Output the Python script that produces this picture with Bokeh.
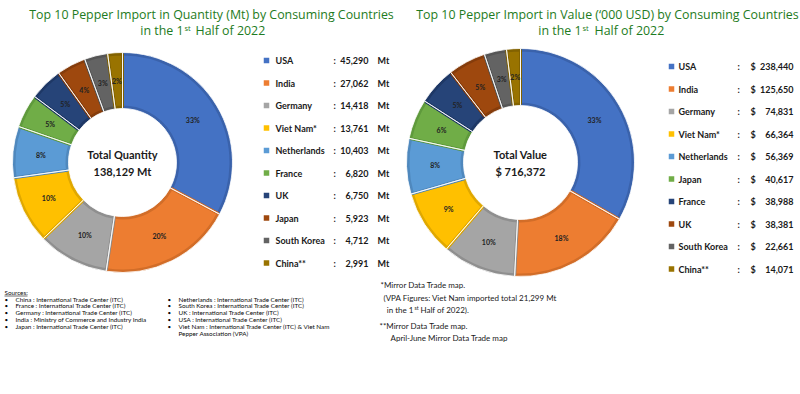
import math
from bokeh.plotting import figure
from bokeh.models import ColumnDataSource, Range1d
from bokeh.core.properties import value
from bokeh.embed import file_html
from bokeh.resources import INLINE

# ---------------- data ----------------
qty_countries = ["USA", "India", "Germany", "Viet Nam*", "Netherlands", "France", "UK", "Japan", "South Korea", "China**"]
qty_values = [45290, 27062, 14418, 13761, 10403, 6820, 6750, 5923, 4712, 2991]
qty_total_label = "138,129 Mt"

val_countries = ["USA", "India", "Germany", "Viet Nam*", "Netherlands", "Japan", "France", "UK", "South Korea", "China**"]
val_values = [238440, 125650, 74831, 66364, 56369, 40617, 38988, 38381, 22661, 14071]
val_total_label = "$ 716,372"

slice_colors = ["#4472C4", "#ED7D31", "#A5A5A5", "#FFC000", "#5B9BD5", "#70AD47", "#264478", "#9E480E", "#636363", "#997300"]
edge_colors = ["#3A62AB", "#D26D28", "#8F8F8F", "#E0A800", "#4F88BD", "#5F9A3C", "#1E3866", "#853C0B", "#555555", "#826200"]

sources_left = ["China : International Trade Center (ITC)",
                "France : International Trade Center (ITC)",
                "Germany : International Trade Center (ITC)",
                "India : Ministry of Commerce and Industry India",
                "Japan : International Trade Center (ITC)"]
sources_right = ["Netherlands : International Trade Center (ITC)",
                 "South Korea : International Trade Center (ITC)",
                 "UK : International Trade Center (ITC)",
                 "USA : International Trade Center (ITC)",
                 "Viet Nam : International Trade Center (ITC) & Viet Nam",
                 "Pepper Association (VPA)"]

W, H = 800, 394
def X(rx):
    return rx
def Y(ry):
    return H - ry

p = figure(width=W, height=H, output_backend="svg", toolbar_location=None,
           x_range=Range1d(0, W), y_range=Range1d(0, H), min_border=0)
p.axis.visible = False
p.grid.visible = False
p.outline_line_color = None
p.background_fill_color = "white"

GREEN = "#1E7B22"
TXT = "#1a1a1a"
TITLE_FONT = value("Open Sans")
BODY_FONT = value("Lato")

def txt(x, y, t, size, bold=False, color=TXT, align="left", font=BODY_FONT, baseline="middle"):
    p.text(x=[X(x)], y=[Y(y)], text=[t], text_font=font, text_font_size=f"{size}px",
           text_font_style="bold" if bold else "normal", text_color=color,
           text_align=align, text_baseline=baseline)

def donut(cx, cy, r_in, r_out, values, total_lines):
    tot = float(sum(values))
    starts, ends, lx, ly, labels = [], [], [], [], []
    cum = 0.0
    for v in values:
        a0 = math.pi / 2 - cum / tot * 2 * math.pi
        cum += v
        a1 = math.pi / 2 - cum / tot * 2 * math.pi
        starts.append(a0)
        ends.append(a1)
        mid = (a0 + a1) / 2
        rm = (r_in + r_out) / 2
        lx.append(X(cx) + rm * math.cos(mid))
        ly.append(Y(cy) + rm * math.sin(mid))
        labels.append(f"{round(v / tot * 100)}%")
    src = ColumnDataSource(dict(x=[X(cx)] * len(values), y=[Y(cy)] * len(values),
                                s=starts, e=ends, c=slice_colors, lc=edge_colors))
    p.annular_wedge(x="x", y="y", inner_radius=r_in + 1.5, outer_radius=r_out - 1.5,
                    start_angle="s", end_angle="e", direction="clock",
                    fill_color="c", line_color="lc", line_width=3, source=src)
    p.annular_wedge(x="x", y="y", inner_radius=r_in, outer_radius=r_out,
                    start_angle="s", end_angle="e", direction="clock",
                    fill_color=None, line_color="white", line_width=0.8, source=src)
    p.text(x=lx, y=ly, text=labels, text_font=BODY_FONT, text_font_size="7px",
           text_font_style="bold", text_color="#222222", text_align="center",
           text_baseline="middle")
    txt(cx, cy - 8, total_lines[0], 11, bold=True, align="center")
    txt(cx, cy + 9, total_lines[1], 11, bold=True, align="center")

TS = 12.4
# ---------------- left chart ----------------
txt(211, 14, "Top 10 Pepper Import in Quantity (Mt) by Consuming Countries", TS, color=GREEN, align="center", font=TITLE_FONT)
txt(183, 30, "in the 1", TS, color=GREEN, align="right", font=TITLE_FONT)
txt(184, 27, "st", 7.5, color=GREEN, font=TITLE_FONT)
txt(195, 30, "Half of 2022", TS, color=GREEN, font=TITLE_FONT)
donut(122, 162, 54, 110, qty_values, ["Total Quantity", qty_total_label])

row0, dy = 60, 22.5
for i, (c, v) in enumerate(zip(qty_countries, qty_values)):
    yy = row0 + i * dy
    p.rect(x=[X(266)], y=[Y(yy)], width=5.5, height=5.5, fill_color=slice_colors[i], line_color=None)
    txt(275, yy, c, 9, bold=True)
    txt(333, yy, ":", 9, bold=True)
    txt(368, yy, f"{v:,}", 9, bold=True, align="right")
    txt(377, yy, "Mt", 9, bold=True)

# ---------------- right chart ----------------
txt(607, 14, "Top 10 Pepper Import in Value (\u2018000 USD) by Consuming Countries", TS, color=GREEN, align="center", font=TITLE_FONT)
txt(581, 30, "in the 1", TS, color=GREEN, align="right", font=TITLE_FONT)
txt(582, 27, "st", 7.5, color=GREEN, font=TITLE_FONT)
txt(594, 30, "Half of 2022", TS, color=GREEN, font=TITLE_FONT)
donut(520, 162, 57, 114, val_values, ["Total Value", val_total_label])

row0r = 66
for i, (c, v) in enumerate(zip(val_countries, val_values)):
    yy = row0r + i * dy
    p.rect(x=[X(671)], y=[Y(yy)], width=5.5, height=5.5, fill_color=slice_colors[i], line_color=None)
    txt(678, yy, c, 9, bold=True)
    txt(737, yy, ":", 9, bold=True)
    txt(750, yy, "$", 9, bold=True)
    txt(793, yy, f"{v:,}", 9, bold=True, align="right")

# ---------------- sources ----------------
SC = "#0a0a0a"
SF = 6.3
txt(4, 292, "Sources:", SF, color=SC)
p.segment(x0=[X(4)], y0=[Y(295.5)], x1=[X(27)], y1=[Y(295.5)], line_color=SC, line_width=0.6)
s_y0, s_dy = 298.5, 6.8
for i, s in enumerate(sources_left):
    yy = s_y0 + i * s_dy
    txt(4, yy, "\u2022", SF, color=SC)
    txt(15, yy, s, SF, color=SC)
for i, s in enumerate(sources_right):
    yy = s_y0 + i * s_dy
    if i < len(sources_right) - 1:
        txt(167, yy, "\u2022", SF, color=SC)
    txt(178, yy, s, SF, color=SC)

# ---------------- notes ----------------
NOTE = 8
txt(380, 284, "*Mirror Data Trade map.", NOTE)
txt(383, 297, "(VPA Figures: Viet Nam imported total 21,299 Mt", NOTE)
txt(413, 309, "in the 1", NOTE, align="right")
txt(414, 307, "st", 5.2)
txt(420, 309, "Half of 2022).", NOTE)
txt(379, 325, "**Mirror Data Trade map.", NOTE)
txt(390, 337, "April-June Mirror Data Trade map", NOTE)

open("out.html", "w").write(file_html(p, INLINE))
